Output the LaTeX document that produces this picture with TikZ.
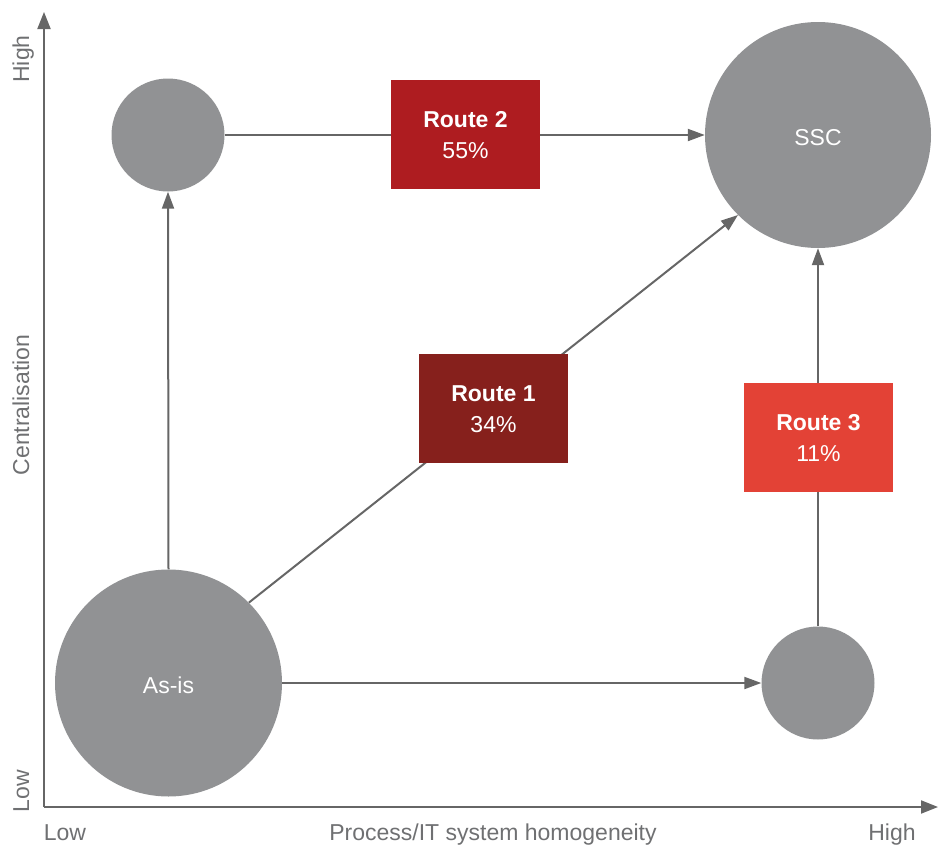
\documentclass[tikz,border=0pt]{standalone}
\usepackage{fontspec}
\setmainfont{Liberation Sans}
\usetikzlibrary{arrows.meta}
\definecolor{circgray}{HTML}{919294}
\definecolor{linegray}{HTML}{666666}
\definecolor{labelgray}{HTML}{6F7072}
\definecolor{rtwo}{HTML}{AE1C20}
\definecolor{rone}{HTML}{86201C}
\definecolor{rthree}{HTML}{E34236}
\newcommand{\routetext}[2]{\raisebox{-2.5pt}[\height][\depth]{\begin{tabular}{@{}c@{}}\textbf{#1}\\#2\end{tabular}}}
\newcommand{\bubtext}[1]{\raisebox{-2.5pt}[\height][\depth]{#1}}
\tikzset{
  bubble/.style={circle, fill=circgray, inner sep=0pt, text=white, font=\fontsize{23}{27}\selectfont},
  routebox/.style={rectangle, inner sep=0pt, minimum width=149pt, minimum height=109pt, align=center, text=white, font=\fontsize{23}{31}\selectfont},
  conn/.style={draw=linegray, line width=2pt, -{Triangle[length=17pt,width=12pt]}},
  axis/.style={draw=linegray, line width=2pt, -{Triangle[length=17pt,width=13pt]}},
  axlabel/.style={text=labelgray, font=\fontsize{23}{27}\selectfont, inner sep=0pt, anchor=base}
}
\begin{document}
\begin{tikzpicture}[x=1pt,y=-1pt]
\useasboundingbox (0,0) rectangle (946,846);
% axes
\coordinate (origin) at (44,807);
\coordinate (ytip) at (44,12);
\coordinate (xtip) at (938,807);
\draw[axis] (origin) -- (ytip);
\draw[axis] (origin) -- (xtip);
% axis labels
\node[axlabel, rotate=90] (yhigh) at (29,59) {High};
\node[axlabel, rotate=90] (ylow) at (29,791) {Low};
\node[axlabel, rotate=90] (ylab) at (29,405) {Centralisation};
\node[axlabel] (xlow) at (65,840) {Low};
\node[axlabel] (xlab) at (493,840) {Process/IT system homogeneity};
\node[axlabel] (xhigh) at (892,840) {High};
% bubbles
\node[bubble, minimum size=227pt] (asis) at (168.5,683) {\bubtext{As-is}};
\node[bubble, minimum size=226pt] (ssc) at (818,135) {\bubtext{SSC}};
\node[bubble, minimum size=113pt] (tl) at (168,135) {};
\node[bubble, minimum size=113pt] (br) at (818,683) {};
% connectors
\draw[conn] (asis.north) -- (tl.south);
\draw[conn] (asis.east) -- (br.west);
\draw[conn] (tl.east) -- (ssc.west);
\draw[conn] (br.north) -- (ssc.south);
\draw[conn] (asis.45) -- (ssc.225);
% route boxes
\node[routebox, fill=rtwo] (route2) at (465.5,134.5) {\routetext{Route 2}{55\%}};
\node[routebox, fill=rone] (route1) at (493.5,408.5) {\routetext{Route 1}{34\%}};
\node[routebox, fill=rthree] (route3) at (818.5,437) {\routetext{Route 3}{11\%}};
\end{tikzpicture}
\end{document}
